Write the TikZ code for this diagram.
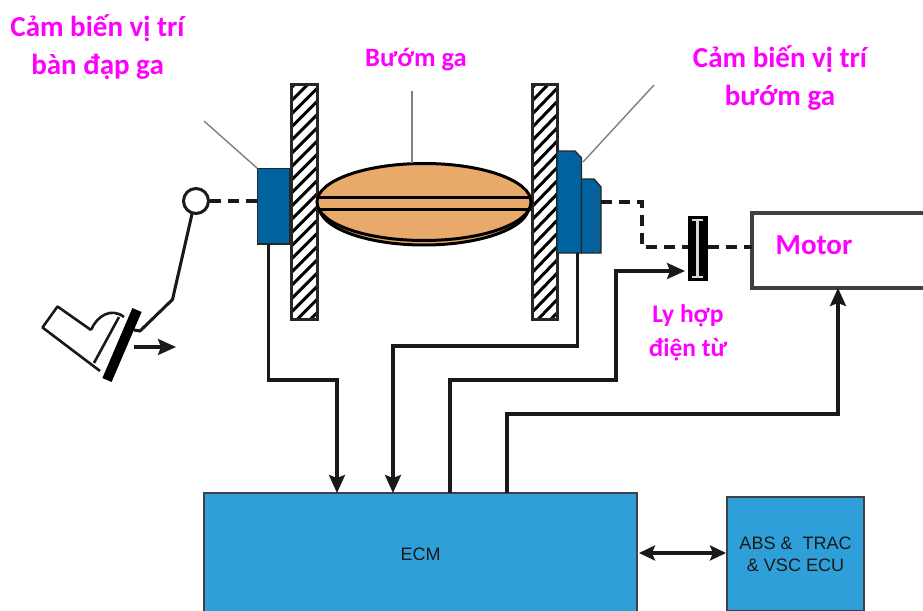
\documentclass[tikz,border=0pt]{standalone}
\usepackage{fontspec}
\setmainfont{Carlito}
\newfontfamily\arialf{Liberation Sans}
\usetikzlibrary{arrows.meta,calc}
\definecolor{sensorblue}{HTML}{00629F}
\definecolor{ecmblue}{HTML}{2E9FD8}
\definecolor{valvetan}{HTML}{E8A96B}
\definecolor{labelpink}{HTML}{FF00FF}
\tikzset{
  x=1pt,y=-1pt,
  wire/.style={line width=3.05pt,draw=black!90},
  sig/.style={wire,-{Stealth[length=18pt,width=16pt,inset=3pt]}},
  sigboth/.style={wire,{Stealth[length=16pt,width=15pt,inset=3pt]}-{Stealth[length=16pt,width=15pt,inset=3pt]}},
  dashwire/.style={wire,dash pattern=on 11pt off 7pt},
  leader/.style={line width=1.4pt,draw=black!50},
  sensor/.style={draw=black!85,line width=1.4pt,fill=sensorblue},
  ebox/.style={draw=black!75,line width=1.6pt,fill=ecmblue,text=black!90,align=center,inner sep=0pt},
  pinklabel/.style={font=\bfseries\fontsize{29}{38}\selectfont,text=labelpink,align=center,inner sep=0pt},
  boxat/.style n args={4}{minimum width={#3-#1},minimum height={#4-#2},inner sep=0pt,outer sep=0pt}
}
\newcommand{\hatchwall}[3]{%
  \begin{scope}
    \clip (#1,84) rectangle (#2,319);
    \foreach \k in {0,...,20}{
      \draw[line width=3pt,black] (#1-2,{90+\k*13.2}) -- (#2+2,{90+\k*13.2-30});
    }
  \end{scope}
  \draw[line width=3pt,black!85] (#1,84) rectangle (#2,319);
  \node[boxat={#1}{84}{#2}{319},anchor=north west] (#3) at (#1,84) {};
}
\begin{document}
\begin{tikzpicture}
\useasboundingbox (0,0) rectangle (923,610);
\clip (0,0) rectangle (923,610);
\fill[white] (0,0) rectangle (923,610);

% labels
\node[pinklabel] (lblpedal) at (97.5,47) {Cảm biến vị trí\\bàn đạp ga};
\node[pinklabel] (lblthrottle) at (780,78) {Cảm biến vị trí\\bướm ga};
\node[pinklabel,font=\bfseries\fontsize{26.5}{30}\selectfont] (lblvalve) at (416,60) {Bướm ga};
\node[pinklabel,font=\bfseries\fontsize{25.5}{34}\selectfont] (lblclutch) at (688,333) {Ly hợp\\điện từ};

% walls
\hatchwall{291}{317}{wallL}
\hatchwall{532}{557}{wallR}

% valve
\draw[line width=3pt,black,fill=valvetan] (424,206) ellipse [x radius=105,y radius=39];
\draw[line width=3pt,black,fill=valvetan] (424,202) ellipse [x radius=107,y radius=38.5];
\coordinate (valvetop) at (412,163);
\draw[line width=3pt,black] (318,197.5) -- (531,197.5) (318,209.5) -- (531,209.5);

% sensors
\node[sensor,boxat={257.5}{168.5}{290}{244},anchor=north west] (sensorL) at (257.5,168.5) {};
\draw[sensor] (557,151) -- (575,151) -- (581.5,158) -- (581.5,253) -- (557,253) -- cycle;
\coordinate (sensorRA) at (577.5,253);
\draw[sensor] (581.5,179) -- (594,179) -- (601,187) -- (601,253) -- (581.5,253) -- cycle;
\coordinate (sensorRB) at (601,202);
\draw[line width=1.4pt,black!70,dotted] (596,190) -- (596,253);

% clutch
\node[fill=black,boxat={687.5}{216}{707.5}{281},anchor=north west] (clutch) at (687.5,216) {};
\draw[line width=2.2pt,white!85!black] (692,220) -- (703,220) (697.5,220) -- (697.5,277) (692,277) -- (703,277);

% motor
\node[draw=black!75,line width=4pt,fill=white,boxat={752}{213}{940}{288},anchor=north west] (motor) at (752,213) {};
\node[pinklabel,anchor=west] (motorlbl) at (775.5,245) {Motor};

% ECM etc
\node[ebox,boxat={204}{493}{637}{615},anchor=north west,font=\arialf\fontsize{18}{22}\selectfont] (ecm) at (204,493) {ECM};
\node[ebox,boxat={727}{497}{864}{611},anchor=north west,font=\arialf\fontsize{18}{22}\selectfont] (abs) at (727,497) {ABS \&\ \ TRAC\\\&\ VSC ECU};

% leaders
\coordinate (leadLend) at (204,121);
\coordinate (leadVend) at (412,91);
\coordinate (leadRend) at (654,85);
\draw[leader] (leadLend) -- (sensorL.north west);
\draw[leader] (leadVend) -- (valvetop);
\draw[leader] (leadRend) -- (583,162);

% pedal
\coordinate (pa) at (57.5,306.5);
\coordinate (pb) at (42.5,327.5);
\coordinate (pc) at (100,371);
\coordinate (pd) at (91,330);
\draw[line width=2.6pt,black!90,line join=round] (pd) -- (pa) -- (pb) -- (pc);
\draw[line width=2.6pt,black!90] (pd) .. controls (97,316) and (111,307) .. (124,317);
\draw[line width=2.6pt,black!90] (119,317) -- (94,363);
\draw[line width=10pt,black] (137,310) -- (107,380);
\node[draw=black!90,line width=3pt,fill=white,circle,minimum size=25pt,inner sep=0pt] (pivot) at (196,201) {};
\coordinate (rodbend) at (172.5,299.5);
\coordinate (rodfoot) at (140,331);
\draw[wire,line join=round] (pivot) ++(-4,13) -- (rodbend) -- (rodfoot) -- (134,330);
\coordinate (pushS) at (134,347);
\coordinate (pushE) at (176,347);
\draw[sig] (pushS) -- (pushE);

% dashed mechanical links
\draw[dashwire] (pivot.east) -- (sensorL.west |- pivot.east);
\coordinate (bend1) at (642,202);
\coordinate (bend2) at (642,247);
\draw[dashwire] (sensorRB) -- (bend1) -- (bend2) -- (clutch.west |- bend2);
\draw[dashwire] (clutch.east |- bend2) -- (motor.west |- bend2);

% signal wires
\coordinate (w1) at (268.5,380);
\draw[sig] (268.5,244) -- (w1) -- (337,380) -- (337,493);
\draw[sig] (sensorRA) -- (577.5,346) -- (393,346) -- (393,493);
\draw[sig] (450,493) -- (450,380) -- (616,380) -- (616,271) -- (685,271);
\draw[sig] (507,493) -- (507,414) -- (838,414) -- (838,288);
\coordinate (linkY) at (680,553);
\draw[sigboth] ($(ecm.east |- linkY)+(2,0)$) -- ($(abs.west |- linkY)+(-1,0)$);
\end{tikzpicture}
\end{document}
